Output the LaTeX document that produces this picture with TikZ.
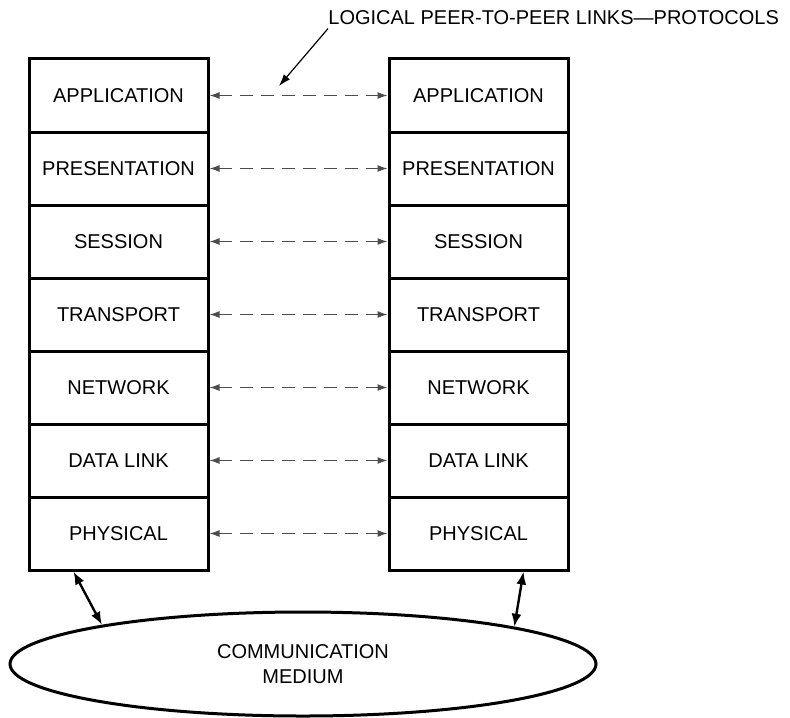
\documentclass[tikz,border=0pt]{standalone}
\usepackage{fontspec}
\setmainfont{Liberation Sans}
\usetikzlibrary{arrows.meta,shapes.geometric}
\begin{document}
\begin{tikzpicture}[x=0.5pt,y=-0.5pt,
  layer/.style={draw,line width=1.5pt,minimum width=89.5pt,minimum height=36.5pt,inner sep=0pt,font=\fontsize{10}{12}\selectfont},
  peerlink/.style={black!70,line width=0.6pt,dash pattern=on 6.5pt off 4pt,{Latex[length=5pt,width=3.5pt]}-{Latex[length=5pt,width=3.5pt]}},
  wire/.style={line width=1.2pt,{Latex[length=6.5pt,width=5pt]}-{Latex[length=6.5pt,width=5pt]}}]
\useasboundingbox (0,0) rectangle (790,717);
% the two stacks of layers
\foreach \name/\txt [count=\i] in {app/APPLICATION,pre/PRESENTATION,ses/SESSION,tra/TRANSPORT,net/NETWORK,dat/DATA LINK,phy/PHYSICAL}{
  \node[layer] (l\name) at (118.5,{95.5+73*(\i-1)}) {\txt};
  \node[layer] (r\name) at (478.5,{95.5+73*(\i-1)}) {\txt};
  \draw[peerlink] (l\name) -- (r\name);
}
% label and pointer
\node[anchor=base west,inner sep=0pt,font=\fontsize{10}{12}\selectfont] (protocols) at (328,25) {LOGICAL PEER-TO-PEER LINKS—PROTOCOLS};
\coordinate (aim) at (279,86);
\draw[line width=0.6pt,-{Latex[length=6pt,width=4pt]}] ([yshift=-1.5pt]protocols.south west) -- (aim);
% medium
\node[draw,ellipse,line width=1.5pt,minimum width=293pt,minimum height=52pt,inner sep=0pt,align=center,font=\fontsize{10}{12.5}\selectfont] (medium) at (303,664) {COMMUNICATION\\MEDIUM};
\draw[wire] ([xshift=23pt]lphy.south west) -- (medium.169.9);
\draw[wire] ([xshift=68pt]rphy.south west) -- (medium.10.1);
\end{tikzpicture}
\end{document}
